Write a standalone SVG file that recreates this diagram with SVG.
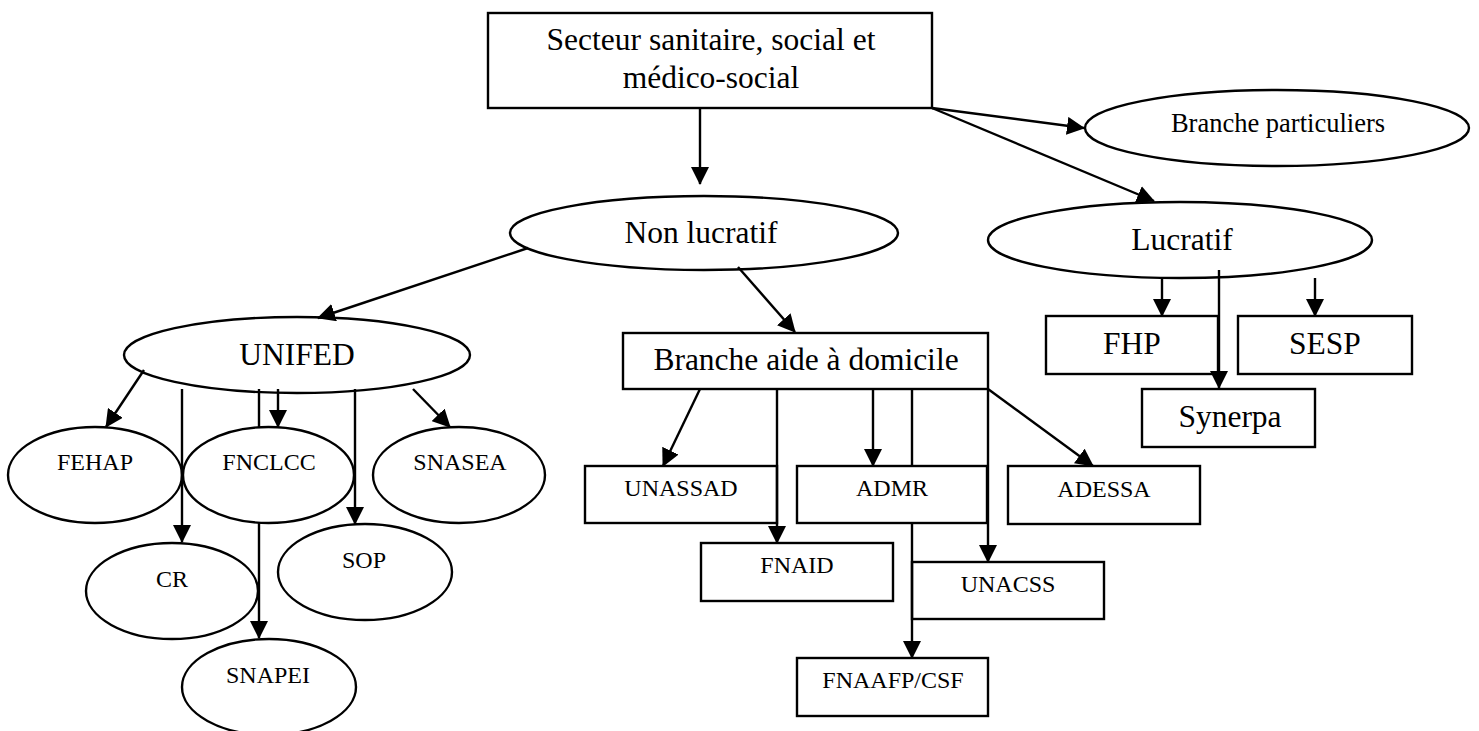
<svg xmlns="http://www.w3.org/2000/svg" width="1479" height="731" viewBox="0 0 1479 731">
<style>
.n{fill:#fff;stroke:#000;stroke-width:2.4}
.t{font-family:"Liberation Serif","Times New Roman",serif;fill:#000;text-anchor:middle}
.b{font-size:31.5px}
.s{font-size:24px}
.m{font-size:26.5px}
.c line{stroke:#000;stroke-width:2.4}
.a{marker-end:url(#ah)}
</style>
<defs>
<marker id="ah" markerUnits="userSpaceOnUse" markerWidth="18" markerHeight="18" refX="17" refY="9" orient="auto">
<path d="M0,0 L18,9 L0,18 z" fill="#000"/>
</marker>
</defs>
<rect width="1479" height="731" fill="#fff"/>
<g id="secteur"><rect class="n" x="488" y="13" width="444" height="95"/><text class="t b" x="711" y="50">Secteur sanitaire, social et</text><text class="t b" x="711" y="88">médico-social</text></g>
<g id="particuliers"><ellipse class="n" cx="1277" cy="128" rx="192" ry="38"/><text class="t m" x="1278" y="132">Branche particuliers</text></g>
<g id="nonlucratif"><ellipse class="n" cx="704" cy="233" rx="194" ry="37"/><text class="t b" x="701" y="243">Non lucratif</text></g>
<g id="lucratif"><ellipse class="n" cx="1180" cy="240" rx="192" ry="38"/><text class="t b" x="1182" y="250">Lucratif</text></g>
<g id="unifed"><ellipse class="n" cx="297" cy="355" rx="173" ry="38"/><text class="t b" x="297" y="365">UNIFED</text></g>
<g id="fehap"><ellipse class="n" cx="95" cy="475" rx="87" ry="48"/><text class="t s" x="95" y="470">FEHAP</text></g>
<g id="fnclcc"><ellipse class="n" cx="268.5" cy="475" rx="85.5" ry="48"/><text class="t s" x="269" y="470">FNCLCC</text></g>
<g id="snasea"><ellipse class="n" cx="459" cy="475" rx="86" ry="48"/><text class="t s" x="460" y="470">SNASEA</text></g>
<g id="cr"><ellipse class="n" cx="172" cy="591" rx="86" ry="48"/><text class="t s" x="172" y="587">CR</text></g>
<g id="sop"><ellipse class="n" cx="365" cy="572" rx="87" ry="48"/><text class="t s" x="364" y="568">SOP</text></g>
<g id="snapei"><ellipse class="n" cx="269" cy="687" rx="87" ry="48"/><text class="t s" x="268" y="683">SNAPEI</text></g>
<g id="aide"><rect class="n" x="623" y="333" width="365" height="56"/><text class="t b" x="806" y="370">Branche aide à domicile</text></g>
<g id="unassad"><rect class="n" x="585" y="466" width="192" height="57"/><text class="t s" x="681" y="496">UNASSAD</text></g>
<g id="admr"><rect class="n" x="797" y="466" width="190" height="57"/><text class="t s" x="892" y="496">ADMR</text></g>
<g id="adessa"><rect class="n" x="1008" y="466" width="192" height="58"/><text class="t s" x="1104" y="497">ADESSA</text></g>
<g id="fnaid"><rect class="n" x="701" y="543" width="192" height="58"/><text class="t s" x="797" y="573">FNAID</text></g>
<g id="unacss"><rect class="n" x="912" y="562" width="192" height="57"/><text class="t s" x="1008" y="592">UNACSS</text></g>
<g id="fnaafp"><rect class="n" x="797" y="658" width="191" height="58"/><text class="t s" x="893" y="688">FNAAFP/CSF</text></g>
<g id="fhp"><rect class="n" x="1046" y="316" width="172" height="58"/><text class="t b" x="1132" y="354">FHP</text></g>
<g id="sesp"><rect class="n" x="1238" y="316" width="174" height="58"/><text class="t b" x="1325" y="354">SESP</text></g>
<g id="synerpa"><rect class="n" x="1142" y="389" width="173" height="58"/><text class="t b" x="1230" y="427">Synerpa</text></g>
<g id="connectors" class="c">
<line class="a" x1="700" y1="108" x2="700" y2="184"/>
<line class="a" x1="932" y1="108" x2="1084" y2="128"/>
<line class="a" x1="932" y1="108" x2="1154" y2="201"/>
<line class="a" x1="528" y1="248" x2="318" y2="318"/>
<line class="a" x1="738" y1="267" x2="795" y2="332"/>
<line class="a" x1="144" y1="370" x2="106" y2="427"/>
<line class="a" x1="182" y1="389" x2="182" y2="542"/>
<line x1="259" y1="389" x2="259" y2="427"/>
<line class="a" x1="259" y1="523" x2="259" y2="638"/>
<line class="a" x1="278" y1="389" x2="278" y2="427"/>
<line class="a" x1="355" y1="389" x2="355" y2="524"/>
<line class="a" x1="413" y1="389" x2="450" y2="427"/>
<line class="a" x1="1162" y1="278" x2="1162" y2="316"/>
<line class="a" x1="1219" y1="270" x2="1219" y2="388"/>
<line class="a" x1="1315" y1="278" x2="1315" y2="316"/>
<line class="a" x1="700" y1="389" x2="663" y2="466"/>
<line class="a" x1="777" y1="389" x2="777" y2="543"/>
<line class="a" x1="873" y1="389" x2="873" y2="466"/>
<line x1="912" y1="389" x2="912" y2="466"/>
<line class="a" x1="912" y1="523" x2="912" y2="658"/>
<line class="a" x1="988" y1="389" x2="988" y2="562"/>
<line class="a" x1="988" y1="389" x2="1093" y2="466"/>
</g>
</svg>
